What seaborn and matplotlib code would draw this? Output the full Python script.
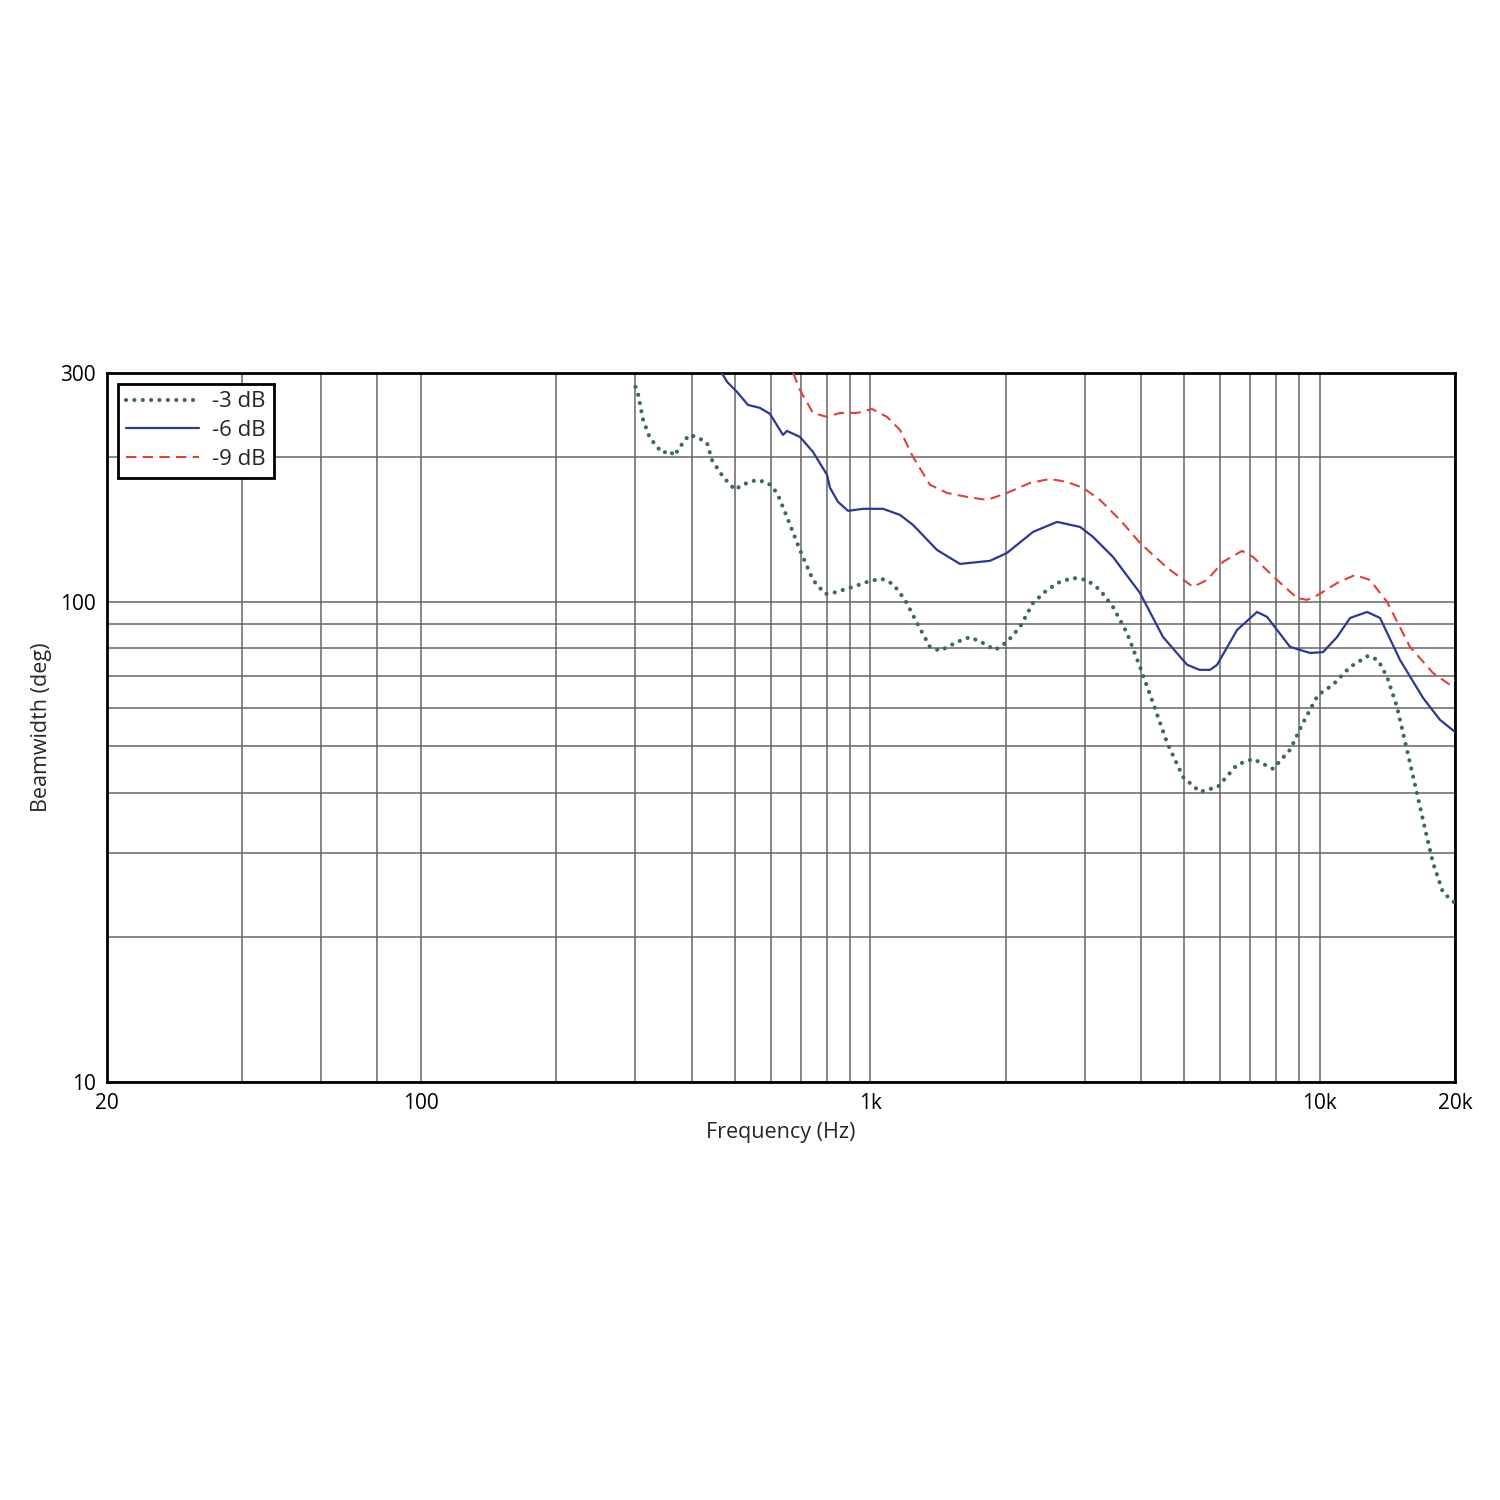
import matplotlib
matplotlib.use("Agg")
import matplotlib.pyplot as plt
import seaborn as sns
import pandas as pd

# -3 dB beamwidth (Hz, deg)
freq_3db = [300, 304, 312, 323, 344, 358, 366, 377, 395, 411, 433, 444, 470, 500, 518,
            559, 592, 620, 652, 697, 745, 793, 826, 915, 998, 1061, 1123, 1194, 1270,
            1357, 1429, 1559, 1666, 1781, 1894, 2014, 2153, 2301, 2472, 2642, 2824,
            3034, 3243, 3467, 3724, 3981, 4256, 4574, 4962, 5414, 5937, 6546, 7104,
            7872, 8589, 9180, 9911, 10700, 11680, 12810, 13480, 14120, 14860, 15880,
            16980, 17870, 18810, 20000]
beam_3db = [280.5, 271.3, 239.5, 219.7, 204.4, 206.4, 201.5, 210.4, 222.8, 220.7, 214.4,
            197.6, 182.2, 171.2, 175.4, 179.6, 177.0, 168.7, 150.4, 128.3, 111.1, 103.9,
            104.4, 107.5, 110.6, 111.7, 109.0, 101.0, 90.4, 80.6, 79.1, 82.5, 84.5, 82.1,
            79.4, 82.5, 88.7, 99.5, 105.9, 110.1, 112.2, 111.1, 105.9, 97.6, 86.2, 73.2,
            61.6, 50.9, 43.2, 40.2, 41.2, 45.8, 47.1, 44.9, 49.2, 56.0, 64.0, 67.2, 73.2,
            77.2, 75.7, 69.8, 60.4, 46.2, 35.1, 28.6, 24.8, 23.6]

# -6 dB beamwidth
freq_6db = [467, 480, 505, 534, 568, 598, 623, 639, 652, 697, 745, 801, 813, 847, 892,
            963, 1067, 1164, 1244, 1407, 1583, 1846, 2014, 2301, 2602, 2928, 3129, 3467,
            3981, 4480, 5066, 5400, 5698, 5906, 6546, 7252, 7632, 8589, 9512, 10170, 10930,
            11680, 12750, 13620, 15090, 16980, 18520, 20000]
beam_6db = [300, 287.3, 273.8, 257.3, 253.6, 246.4, 231.5, 222.8, 227.1, 220.7, 205.4,
            183.9, 172.9, 161.6, 154.8, 156.3, 156.3, 151.8, 144.7, 128.3, 120.0, 121.8,
            126.5, 139.9, 146.8, 143.3, 136.6, 124.1, 104.4, 84.5, 74.0, 72.2, 72.2, 73.9, 87.4,
            95.3, 93.1, 80.6, 78.3, 78.6, 84.5, 92.6, 95.3, 92.6, 75.7, 63.1, 56.8, 53.6]

# -9 dB beamwidth
freq_9db = [673, 697, 745, 801, 856, 934, 1008, 1089, 1164, 1244, 1357, 1481, 1641, 1818,
            2014, 2266, 2511, 2738, 2973, 3243, 3595, 3981, 4574, 5224, 5612, 6091, 6714,
            7104, 8036, 8902, 9371, 9911, 10930, 11980, 12940, 14120, 15880, 17870, 19490,
            20000]
beam_9db = [300, 276.5, 247.6, 242.9, 247.6, 247.6, 252.4, 242.9, 228.2, 200.5, 175.4,
            168.7, 165.5, 163.1, 168.7, 177.0, 180.4, 177.8, 172.9, 163.1, 148.2, 132.7,
            117.8, 107.5, 111.1, 121.2, 127.7, 124.1, 111.1, 101.9, 101.0, 103.4, 109.5,
            113.8, 111.1, 100.0, 80.6, 71.1, 67.2, 68.8]

x_major = [20, 100, 1000, 10000, 20000]
x_major_labels = ["20", "100", "1k", "10k", "20k"]
x_minor = [40, 60, 80, 200, 300, 400, 500, 600, 700, 800, 900,
           2000, 3000, 4000, 5000, 6000, 7000, 8000, 9000]
y_major = [10, 100, 300]
y_minor = [20, 30, 40, 50, 60, 70, 80, 90, 200]

sns.set_style("white")
plt.rcParams['font.family'] = ['Open Sans', 'DejaVu Sans']

fig = plt.figure(figsize=(15, 15), dpi=100)
ax = fig.add_axes([0.0713, 0.2787, 0.8987, 0.4727])

df3 = pd.DataFrame({"f": freq_3db, "bw": beam_3db})
df6 = pd.DataFrame({"f": freq_6db, "bw": beam_6db})
df9 = pd.DataFrame({"f": freq_9db, "bw": beam_9db})

sns.lineplot(data=df3, x="f", y="bw", ax=ax, color="#3d6b4c", lw=3.0,
             linestyle=(0, (0.01, 2.0)), dash_capstyle="round", label="-3 dB", zorder=5)
sns.lineplot(data=df6, x="f", y="bw", ax=ax, color="#2b3990", lw=1.6,
             label="-6 dB", zorder=5)
sns.lineplot(data=df9, x="f", y="bw", ax=ax, color="#e0403a", lw=1.5,
             linestyle=(0, (5, 3)), label="-9 dB", zorder=5)

ax.set_xscale("log")
ax.set_yscale("log")
ax.set_xlim(20, 20000)
ax.set_ylim(10, 300)

ax.set_xticks(x_major)
ax.set_xticklabels(x_major_labels)
ax.set_xticks(x_minor, minor=True)
ax.set_xticklabels([], minor=True)
ax.set_yticks(y_major)
ax.set_yticklabels([str(v) for v in y_major])
ax.set_yticks(y_minor, minor=True)
ax.set_yticklabels([], minor=True)

ax.grid(True, which="both", color="#666666", lw=1.1)
ax.set_axisbelow(True)
ax.tick_params(which="both", length=0, labelsize=15, pad=8, colors="black")

for s in ax.spines.values():
    s.set_color("black")
    s.set_linewidth(2)

ax.set_xlabel("Frequency (Hz)", fontsize=15.5, labelpad=6)
ax.set_ylabel("Beamwidth (deg)", fontsize=15.5, labelpad=6)

leg = ax.legend(loc="upper left", bbox_to_anchor=(0.008, 0.985), borderaxespad=0,
                fontsize=16, frameon=True, fancybox=False, framealpha=1,
                edgecolor="black", handlelength=3.3, handletextpad=0.6,
                labelspacing=0.35, borderpad=0.35)
leg.get_frame().set_linewidth(2)

fig.savefig("out.png", dpi=100)
